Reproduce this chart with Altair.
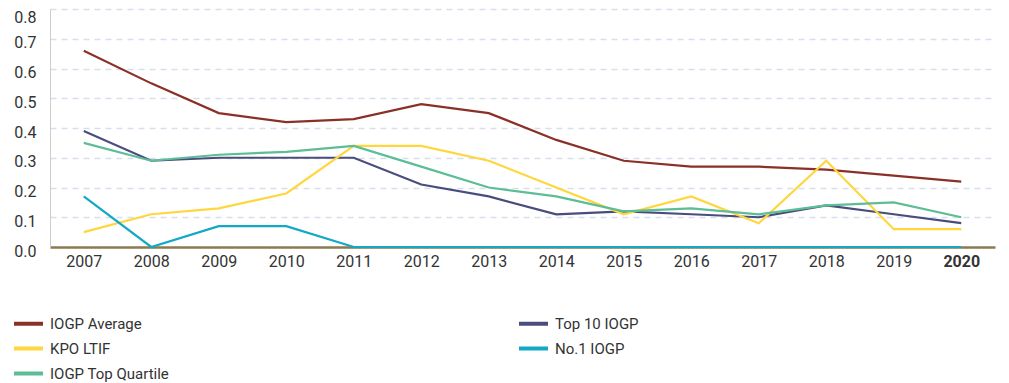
import altair as alt
import pandas as pd

years = [2007, 2008, 2009, 2010, 2011, 2012, 2013, 2014, 2015, 2016, 2017, 2018, 2019, 2020]
iogp_average = [0.66, 0.55, 0.45, 0.42, 0.43, 0.48, 0.45, 0.36, 0.29, 0.27, 0.27, 0.26, 0.24, 0.22]
kpo_ltif = [0.05, 0.11, 0.13, 0.18, 0.34, 0.34, 0.29, 0.20, 0.11, 0.17, 0.08, 0.29, 0.06, 0.06]
top10_iogp = [0.39, 0.29, 0.30, 0.30, 0.30, 0.21, 0.17, 0.11, 0.12, 0.11, 0.10, 0.14, 0.11, 0.08]
no1_iogp = [0.17, 0.00, 0.07, 0.07, 0.00, 0.00, 0.00, 0.00, 0.00, 0.00, 0.00, 0.00, 0.00, 0.00]
top_quartile = [0.35, 0.29, 0.31, 0.32, 0.34, 0.27, 0.20, 0.17, 0.12, 0.13, 0.11, 0.14, 0.15, 0.10]

series_names = ["IOGP Average", "Top 10 IOGP", "KPO LTIF", "No.1 IOGP", "IOGP Top Quartile"]
series_values = [iogp_average, top10_iogp, kpo_ltif, no1_iogp, top_quartile]
series_colors = ["#8B3027", "#4A4C7E", "#FFD63D", "#12A8C6", "#5DBD96"]
draw_order = [0, 4, 1, 2, 3]

rows = []
for name, vals in zip(series_names, series_values):
    for y, v in zip(years, vals):
        rows.append({"Year": str(y), "Series": name, "Value": v, "ord": draw_order[series_names.index(name)]})
df = pd.DataFrame(rows)

FONT = "Roboto"

chart = alt.Chart(df).mark_line(strokeWidth=2.2).encode(
    x=alt.X("Year:O", sort=[str(y) for y in years], title=None,
            scale=alt.Scale(padding=0.5),
            axis=alt.Axis(labelAngle=0, ticks=False, grid=False, domainColor="#8C7B50", domainWidth=2.5,
                          labelFontSize=16, labelColor="#333333", labelPadding=6, labelFont=FONT,
                          labelFontWeight={"condition": {"test": "datum.label == '2020'", "value": "bold"}, "value": "normal"})),
    y=alt.Y("Value:Q", title=None,
            scale=alt.Scale(domain=[0, 0.8], nice=False),
            axis=alt.Axis(values=[0, 0.1, 0.2, 0.3, 0.4, 0.5, 0.6, 0.7, 0.8], format=".1f", ticks=False,
                          domainColor="#cccccc", domainWidth=1, gridColor="#D6DFEB", gridDash=[6, 5], gridWidth=1.5,
                          labelFontSize=16, labelColor="#333333", labelPadding=14, labelFont=FONT,
                          labelOffset={"condition": {"test": "datum.value >= 0.79", "value": 8}, "value": 4})),
    color=alt.Color("Series:N", sort=series_names,
                    scale=alt.Scale(domain=series_names, range=series_colors),
                    legend=alt.Legend(title=None, orient="none", legendX=-38, legendY=298, columns=2,
                                      direction="horizontal",
                                      symbolType="stroke", symbolSize=841, symbolStrokeWidth=4,
                                      labelFontSize=15, labelColor="#333333", labelFont=FONT, labelOffset=5,
                                      columnPadding=341, rowPadding=-8, padding=0, labelLimit=300)),
    order=alt.Order("ord:Q"),
).properties(
    width=945, height=238,
    autosize=alt.AutoSizeParams(type="none"),
    padding={"left": 42, "top": 1, "right": 6, "bottom": 136},
).configure_view(stroke=None).configure_axis(labelFont=FONT)

chart.save("out.html", embed_options={"renderer": "svg", "actions": False})
